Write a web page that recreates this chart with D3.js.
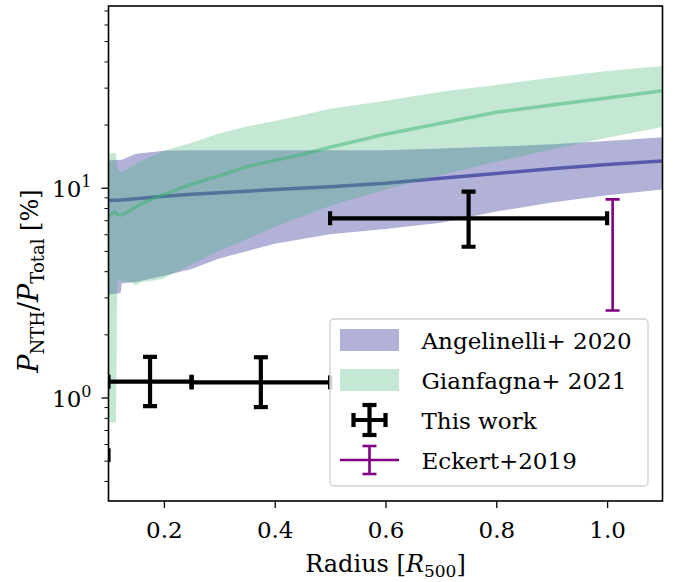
<!DOCTYPE html>
<html>
<head>
<meta charset="utf-8">
<script src="https://cdn.jsdelivr.net/npm/d3@7"></script>
<style>
  html, body { margin: 0; padding: 0; background: #fff; }
  svg { display: block; }
  text { font-family: "DejaVu Serif", serif; fill: #000; }
</style>
</head>
<body>
<div id="chart"></div>
<script>
// ---------------- data ----------------
// Angelinelli+ 2020 band (radius in R500, P_NTH/P_Total in %)
const angR    = [0.100, 0.122, 0.124, 0.15, 0.20, 0.25, 0.30, 0.40, 0.50, 0.60, 0.70, 0.80, 0.90, 1.00, 1.10];
const angLow  = [3.10, 3.15, 3.50, 3.55, 3.80, 4.10, 4.60, 5.40, 6.00, 6.35, 6.80, 7.70, 8.50, 9.20, 9.80];
const angHigh = [13.5, 13.6, 13.6, 14.5, 15.0, 15.1, 15.1, 15.1, 15.1, 15.1, 15.4, 15.7, 16.1, 16.7, 17.4];
const angMid  = [8.70, 8.75, 8.75, 8.85, 9.10, 9.30, 9.45, 9.80, 10.1, 10.5, 11.1, 11.7, 12.3, 12.9, 13.4];

// Gianfagna+ 2021 band
const giaR    = [0.100, 0.111, 0.1135, 0.116, 0.124, 0.14, 0.15, 0.16, 0.18, 0.20, 0.25, 0.30, 0.35, 0.40, 0.45, 0.50, 0.60, 0.70, 0.80, 0.90, 1.00, 1.10];
const giaLow  = [0.76, 0.76, 0.76, 3.60, 3.60, 3.55, 3.43, 3.55, 3.60, 3.70, 4.30, 5.00, 5.70, 6.50, 7.30, 8.20, 9.80, 11.5, 13.3, 15.2, 17.3, 19.5];
const giaHigh = [14.6, 14.6, 14.6, 12.2, 11.8, 12.6, 13.0, 13.5, 14.2, 15.0, 16.4, 18.2, 19.6, 20.8, 22.2, 23.8, 26.0, 28.7, 30.9, 33.5, 36.0, 38.0];
const giaMid  = [7.30, 7.66, 7.55, 7.45, 7.41, 7.80, 8.10, 8.40, 8.84, 9.30, 10.4, 11.4, 12.6, 13.5, 14.4, 15.6, 18.0, 20.3, 22.9, 24.8, 26.8, 29.0];

// This work (errorbars in both directions)
const workR    = [0.05, 0.175, 0.375, 0.75];
const workRLo  = [0.00, 0.10, 0.25, 0.50];
const workRHi  = [0.10, 0.25, 0.50, 1.00];
const workP    = [0.53, 1.19, 1.18, 7.15];
const workPLo  = [0.40, 0.91, 0.90, 5.23];
const workPHi  = [0.70, 1.56, 1.555, 9.57];

// Eckert+2019
const eckR   = [1.01];
const eckPLo = [2.6];
const eckPHi = [8.8];

// ticks
const xTicks = [0.2, 0.4, 0.6, 0.8, 1.0];
const xTickLabels = ["0.2", "0.4", "0.6", "0.8", "1.0"];
const yMajor = [1, 10];
const yMajorExp = ["0", "1"];
const yMinor = [0.4, 0.5, 0.6, 0.7, 0.8, 0.9, 2, 3, 4, 5, 6, 7, 8, 9, 20, 30, 40, 50, 60, 70];

const legendLabels = ["Angelinelli+ 2020", "Gianfagna+ 2021", "This work", "Eckert+2019"];

// ---------------- layout ----------------
const W = 681, H = 582;
const L = 108.5, R = 662.5, T = 6, B = 501;
const FS = 23, FSS = 16;
const FONT = "DejaVu Serif";

const x = d3.scaleLinear().domain([0.1, 1.1]).range([L, R]);
const y = d3.scaleLog().domain([0.321, 73.5]).range([B, T]);

const navy = "#000080", seagreen = "#3cb371", purple = "#800080";

const svg = d3.select("#chart").append("svg").attr("width", W).attr("height", H);

svg.append("defs").append("clipPath").attr("id", "clip")
  .append("rect").attr("x", L).attr("y", T).attr("width", R - L).attr("height", B - T);

const plot = svg.append("g").attr("clip-path", "url(#clip)");

function bandData(r, lo, hi, mid) { return r.map((v, i) => ({ r: v, lo: lo[i], hi: hi[i], mid: mid[i] })); }
const ang = bandData(angR, angLow, angHigh, angMid);
const gia = bandData(giaR, giaLow, giaHigh, giaMid);

const area = d3.area().x(d => x(d.r)).y0(d => y(d.lo)).y1(d => y(d.hi));
const line = d3.line().x(d => x(d.r)).y(d => y(d.mid));

plot.append("path").attr("d", area(ang)).attr("fill", navy).attr("fill-opacity", 0.3);
plot.append("path").attr("d", line(ang)).attr("fill", "none").attr("stroke", navy).attr("stroke-opacity", 0.5).attr("stroke-width", 3.5);
plot.append("path").attr("d", area(gia)).attr("fill", seagreen).attr("fill-opacity", 0.3);
plot.append("path").attr("d", line(gia)).attr("fill", "none").attr("stroke", seagreen).attr("stroke-opacity", 0.5).attr("stroke-width", 3.5);

// This work errorbars
const cap = 7;
workR.forEach((r, i) => {
  const g = plot.append("g").attr("stroke", "#000").attr("stroke-width", 4.2).attr("fill", "none");
  const cx = x(r), cy = y(workP[i]);
  const x0 = x(workRLo[i]), x1 = x(workRHi[i]);
  const y0 = y(workPLo[i]), y1 = y(workPHi[i]);
  g.append("line").attr("x1", x0).attr("x2", x1).attr("y1", cy).attr("y2", cy);
  g.append("line").attr("x1", cx).attr("x2", cx).attr("y1", y0).attr("y2", y1);
  g.append("line").attr("x1", x0).attr("x2", x0).attr("y1", cy - cap).attr("y2", cy + cap);
  g.append("line").attr("x1", x1).attr("x2", x1).attr("y1", cy - cap).attr("y2", cy + cap);
  g.append("line").attr("x1", cx - cap).attr("x2", cx + cap).attr("y1", y0).attr("y2", y0);
  g.append("line").attr("x1", cx - cap).attr("x2", cx + cap).attr("y1", y1).attr("y2", y1);
});

// Eckert errorbar
eckR.forEach((r, i) => {
  const g = plot.append("g").attr("stroke", purple).attr("stroke-width", 2.6);
  const cx = x(r);
  g.append("line").attr("x1", cx).attr("x2", cx).attr("y1", y(eckPLo[i])).attr("y2", y(eckPHi[i]));
  g.append("line").attr("x1", cx - 7).attr("x2", cx + 7).attr("y1", y(eckPLo[i])).attr("y2", y(eckPLo[i]));
  g.append("line").attr("x1", cx - 7).attr("x2", cx + 7).attr("y1", y(eckPHi[i])).attr("y2", y(eckPHi[i]));
});

// ---------------- axes ----------------
const xAxis = d3.axisBottom(x).tickValues(xTicks).tickSize(7).tickPadding(6)
  .tickFormat((d, i) => xTickLabels[i]);
const gx = svg.append("g").attr("transform", `translate(0,${B})`).call(xAxis);
gx.attr("font-family", FONT);
gx.select(".domain").remove();
gx.selectAll("line").attr("stroke", "#000").attr("stroke-width", 1.3);
gx.selectAll("text").attr("font-size", FS).attr("font-family", FONT).attr("dy", null)
  .attr("y", 36.5);

const yAxis = d3.axisLeft(y).tickValues(yMajor).tickSize(7).tickFormat("");
const gy = svg.append("g").attr("transform", `translate(${L},0)`).call(yAxis);
gy.attr("font-family", FONT);
gy.select(".domain").remove();
gy.selectAll("line").attr("stroke", "#000").attr("stroke-width", 1.3);
gy.selectAll(".tick").each(function (d, i) {
  const t = d3.select(this).append("text").attr("x", -17).attr("y", 9)
    .attr("text-anchor", "end").attr("font-size", FS).attr("font-family", FONT);
  t.append("tspan").text("10");
  t.append("tspan").attr("font-size", FSS).attr("dy", -10).text(yMajorExp[i]);
});

const yMinorAxis = d3.axisLeft(y).tickValues(yMinor).tickSize(4).tickFormat("");
const gym = svg.append("g").attr("transform", `translate(${L},0)`).call(yMinorAxis);
gym.select(".domain").remove();
gym.selectAll("line").attr("stroke", "#000").attr("stroke-width", 1.0);

// frame
svg.append("rect").attr("x", L).attr("y", T).attr("width", R - L).attr("height", B - T)
  .attr("fill", "none").attr("stroke", "#000").attr("stroke-width", 1.6);

// axis labels
const xl = svg.append("text").attr("x", (L + R) / 2).attr("y", 572).attr("text-anchor", "middle").attr("font-size", 24);
xl.append("tspan").text("Radius [");
xl.append("tspan").attr("font-style", "italic").text("R");
xl.append("tspan").attr("font-size", 17).attr("dy", 5).text("500");
xl.append("tspan").attr("dy", -5).text("]");

const yl = svg.append("text").attr("transform", `translate(38,281) rotate(-90)`).attr("text-anchor", "middle").attr("font-size", 27);
yl.append("tspan").attr("font-style", "italic").text("P");
yl.append("tspan").attr("font-size", 18).attr("dy", 6).text("NTH");
yl.append("tspan").attr("dy", -6).text("/");
yl.append("tspan").attr("font-style", "italic").text("P");
yl.append("tspan").attr("font-size", 18).attr("dy", 6).text("Total");
yl.append("tspan").attr("dy", -6).attr("font-size", 24).text(" [%]");

// ---------------- legend ----------------
const lg = svg.append("g");
lg.append("rect").attr("x", 330).attr("y", 319).attr("width", 318).attr("height", 167).attr("rx", 4)
  .attr("fill", "#fff").attr("fill-opacity", 0.8).attr("stroke", "#d0d0d0").attr("stroke-width", 1.3);
const rowY = [340, 380, 420, 460];
lg.append("rect").attr("x", 340).attr("y", rowY[0] - 11).attr("width", 59).attr("height", 22)
  .attr("fill", navy).attr("fill-opacity", 0.3);
lg.append("rect").attr("x", 340).attr("y", rowY[1] - 11).attr("width", 59).attr("height", 22)
  .attr("fill", seagreen).attr("fill-opacity", 0.3);
{
  const g = lg.append("g").attr("stroke", "#000").attr("stroke-width", 4.2);
  const cx = 369.5, cy = rowY[2];
  g.append("line").attr("x1", cx - 16).attr("x2", cx + 16).attr("y1", cy).attr("y2", cy);
  g.append("line").attr("x1", cx).attr("x2", cx).attr("y1", cy - 15).attr("y2", cy + 15);
  g.append("line").attr("x1", cx - 16).attr("x2", cx - 16).attr("y1", cy - 7).attr("y2", cy + 7);
  g.append("line").attr("x1", cx + 16).attr("x2", cx + 16).attr("y1", cy - 7).attr("y2", cy + 7);
  g.append("line").attr("x1", cx - 7).attr("x2", cx + 7).attr("y1", cy - 15).attr("y2", cy - 15);
  g.append("line").attr("x1", cx - 7).attr("x2", cx + 7).attr("y1", cy + 15).attr("y2", cy + 15);
}
{
  const g = lg.append("g").attr("stroke", purple).attr("stroke-width", 2.6);
  const cx = 369.5, cy = rowY[3];
  g.append("line").attr("x1", 340).attr("x2", 399).attr("y1", cy).attr("y2", cy);
  g.append("line").attr("x1", cx).attr("x2", cx).attr("y1", cy - 14).attr("y2", cy + 14);
  g.append("line").attr("x1", cx - 7).attr("x2", cx + 7).attr("y1", cy - 14).attr("y2", cy - 14);
  g.append("line").attr("x1", cx - 7).attr("x2", cx + 7).attr("y1", cy + 14).attr("y2", cy + 14);
}
legendLabels.forEach((s, i) => {
  lg.append("text").attr("x", 421.5).attr("y", rowY[i] + 9).attr("font-size", FS).text(s);
});
</script>
</body>
</html>
